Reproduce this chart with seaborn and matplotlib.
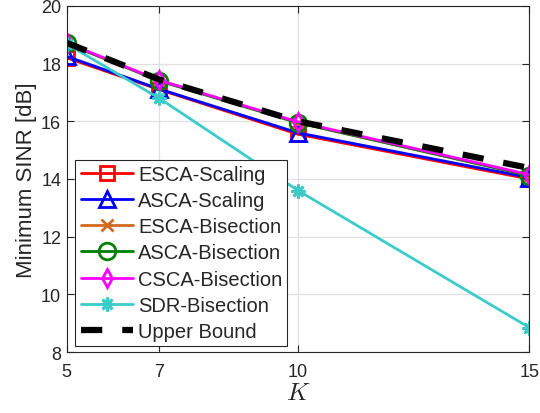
import matplotlib
matplotlib.use("Agg")
import matplotlib.pyplot as plt
import seaborn as sns
import pandas as pd

K = [5, 7, 10, 15]
esca_scaling = [18.2, 17.1, 15.55, 14.0]
asca_scaling = [18.25, 17.12, 15.6, 14.05]
esca_bisection = [18.7, 17.42, 15.95, 14.12]
asca_bisection = [18.7, 17.4, 15.95, 14.12]
csca_bisection = [18.72, 17.42, 15.98, 14.15]
sdr_bisection = [18.68, 16.8, 13.6, 8.85]
upper_bound = [18.72, 17.45, 16.0, 14.38]
labels = ["ESCA-Scaling", "ASCA-Scaling", "ESCA-Bisection", "ASCA-Bisection",
          "CSCA-Bisection", "SDR-Bisection", "Upper Bound"]
x_ticks = [5, 7, 10, 15]
y_ticks = [8, 10, 12, 14, 16, 18, 20]

sns.set_style("ticks")
plt.rcParams['font.family'] = ['Liberation Sans', 'DejaVu Sans']
plt.rcParams['mathtext.fontset'] = 'cm'

fig = plt.figure(figsize=(5.4, 4.14), dpi=100)
ax = fig.add_axes([0.1235, 0.1473, 0.8565, 0.836])

series = [esca_scaling, asca_scaling, esca_bisection, asca_bisection,
          csca_bisection, sdr_bisection, upper_bound]
styles = [
    dict(color='#ff0000', marker='s', markersize=10.5),
    dict(color='#0000ff', marker='^', markersize=11),
    dict(color='#d2691e', marker='x', markersize=9),
    dict(color='#008000', marker='o', markersize=12),
    dict(color='#ff00ff', marker='d', markersize=9),
    dict(color='#3ccbcb', marker=(8, 2, 0), markersize=10),
    dict(color='black', linestyle=(0, (3.4, 3.2)), linewidth=4.5),
]
for vals, lab, st in zip(series, labels, styles):
    st = dict(st)
    lw = st.pop('linewidth', 2.0)
    df = pd.DataFrame({'K': K, 'v': vals})
    kw = dict(markerfacecolor='none', markeredgewidth=2.0,
              markeredgecolor=st['color']) if 'marker' in st else {}
    sns.lineplot(data=df, x='K', y='v', ax=ax, label=lab, linewidth=lw, **kw, **st)

ax.set_xlim(5, 15)
ax.set_ylim(8, 20)
ax.set_xticks(x_ticks)
ax.set_yticks(y_ticks)
ax.tick_params(direction='in', labelsize=13, length=5, top=True, right=True,
               colors='#262626', width=0.8)
ax.tick_params(axis='x', pad=8)
ax.tick_params(axis='y', pad=4)
ax.grid(True, color='#e0e0e0', linewidth=0.9)
for s in ax.spines.values():
    s.set_color('#262626')
    s.set_linewidth(0.8)
ax.set_xlabel('$K$', fontsize=18, labelpad=0)
ax.set_ylabel('Minimum SINR [dB]', fontsize=16, color='#262626', labelpad=3)

leg = ax.legend(loc='lower left', bbox_to_anchor=(0.019, 0.017), fontsize=14.5,
                handlelength=2.6, labelspacing=0.36, borderpad=0.25, handletextpad=0.25,
                borderaxespad=0, fancybox=False, framealpha=1, edgecolor='#262626')
leg.get_frame().set_linewidth(0.8)

fig.savefig('out.png', dpi=100)
